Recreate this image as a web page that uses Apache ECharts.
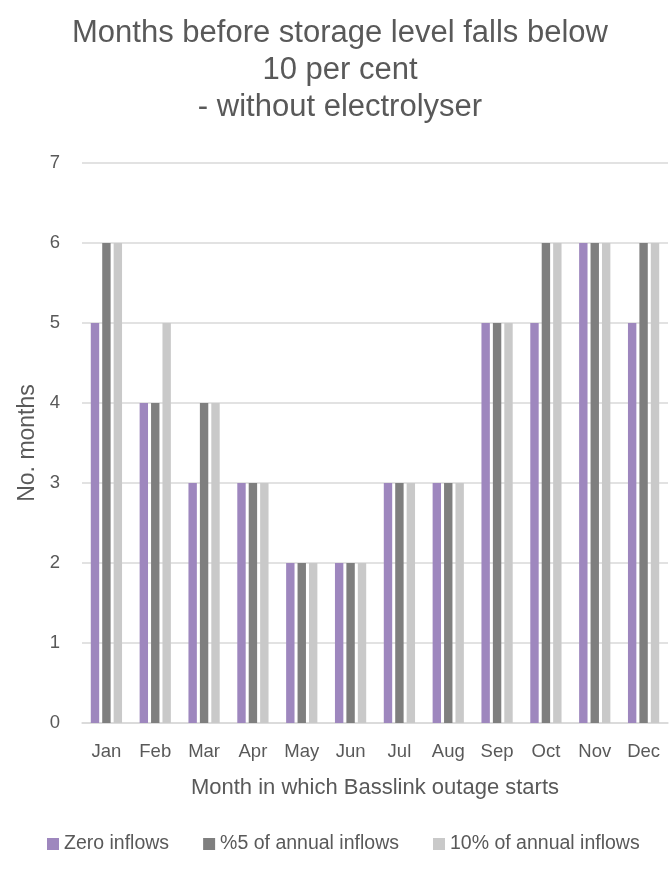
<!DOCTYPE html>
<html>
<head>
<meta charset="utf-8">
<title>Months before storage level falls below 10 per cent</title>
<script src="https://cdn.jsdelivr.net/npm/echarts@6/dist/echarts.min.js"></script>
<style>
  html, body { margin: 0; padding: 0; background: #ffffff; }
  #chart { width: 669px; height: 869px; }
</style>
</head>
<body>
<div id="chart"></div>
<script>
// Month in which the Basslink outage starts
const months = ['Jan', 'Feb', 'Mar', 'Apr', 'May', 'Jun', 'Jul', 'Aug', 'Sep', 'Oct', 'Nov', 'Dec'];

// Months until storage drops below 10%, per inflow scenario
const zeroInflows      = [5, 4, 3, 3, 2, 2, 3, 3, 5, 5, 6, 5];
const fivePctInflows   = [6, 4, 4, 3, 2, 2, 3, 3, 5, 6, 6, 6];
const tenPctInflows    = [6, 5, 4, 3, 2, 2, 3, 3, 5, 6, 6, 6];

const seriesNames = ['Zero inflows', '%5 of annual inflows', '10% of annual inflows'];
const yTicks = [0, 1, 2, 3, 4, 5, 6, 7];

const textColor = '#595959';
const font = '"Liberation Sans", Arial, sans-serif';
const colors = ['#9e87be', '#7f7f7f', '#c9c9c9'];

const chart = echarts.init(document.getElementById('chart'), null, { renderer: 'canvas' });

const barSeries = [zeroInflows, fivePctInflows, tenPctInflows].map((vals, i) => ({
  name: seriesNames[i],
  type: 'bar',
  data: vals,
  barWidth: 8.4,
  barGap: '36%',
  itemStyle: { color: colors[i] }
}));

chart.setOption({
  backgroundColor: '#ffffff',
  animation: false,
  color: colors,
  title: {
    text: 'Months before storage level falls below\n10 per cent\n- without electrolyser',
    left: 335,
    textAlign: 'center',
    top: 10,
    textStyle: {
      fontFamily: font,
      fontWeight: 'normal',
      fontSize: 31,
      lineHeight: 37,
      color: textColor
    }
  },
  legend: {
    data: seriesNames,
    bottom: 10,
    left: 42,
    itemWidth: 12,
    itemHeight: 12,
    itemGap: 34,
    icon: 'rect',
    textStyle: { fontFamily: font, fontSize: 19.5, color: textColor, padding: [0, 0, 0, 0] }
  },
  grid: { left: 82, right: 1, top: 163, bottom: 146 },
  xAxis: {
    type: 'category',
    data: months,
    name: 'Month in which Basslink outage starts',
    nameLocation: 'middle',
    nameGap: 54,
    nameTextStyle: { fontFamily: font, fontSize: 22, color: textColor },
    axisLine: { show: true, lineStyle: { color: '#d9d9d9', width: 1.5 } },
    axisTick: { show: false },
    axisLabel: { fontFamily: font, fontSize: 18.5, color: textColor, margin: 19, interval: 0 }
  },
  yAxis: {
    type: 'value',
    min: yTicks[0],
    max: yTicks[yTicks.length - 1],
    interval: 1,
    name: 'No. months',
    nameLocation: 'middle',
    nameGap: 43,
    nameTextStyle: { fontFamily: font, fontSize: 23, color: textColor },
    axisLine: { show: false },
    axisTick: { show: false },
    splitLine: { lineStyle: { color: '#d9d9d9', width: 1.5 } },
    axisLabel: { fontFamily: font, fontSize: 18.5, color: textColor, margin: 22 }
  },
  series: barSeries
});
</script>
</body>
</html>
